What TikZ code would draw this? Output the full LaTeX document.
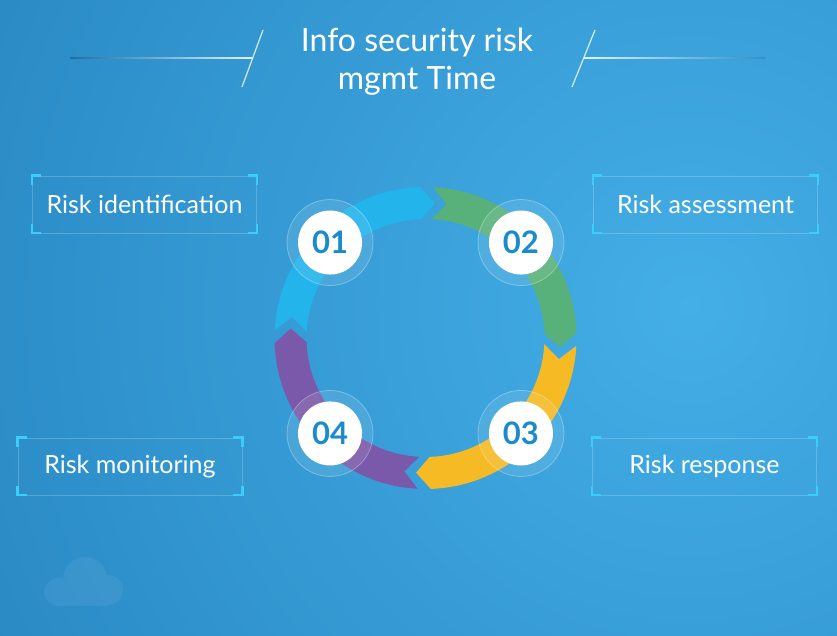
\documentclass[tikz,border=0pt]{standalone}
\usepackage{fontspec}
\setmainfont{Lato}

\definecolor{bgdark}{RGB}{26,110,166}
\definecolor{bgmid}{RGB}{46,144,202}
\definecolor{bglight}{RGB}{68,174,230}
\definecolor{segblue}{RGB}{34,180,234}
\definecolor{seggreen}{RGB}{88,176,122}
\definecolor{segyellow}{RGB}{246,186,36}
\definecolor{segpurple}{RGB}{122,88,170}
\definecolor{numblue}{RGB}{26,140,205}
\definecolor{brackcyan}{RGB}{58,206,250}

\pgfdeclareradialshading{bgglow}{\pgfpoint{0bp}{0bp}}{color(0bp)=(bglight); color(12bp)=(bgmid);
  color(25bp)=(bgdark); color(50bp)=(bgdark)}

\begin{document}
\begin{tikzpicture}[x=1bp,y=1bp,
  labelbox/.style={draw=white,draw opacity=0.2,line width=0.6bp,minimum width=224bp,minimum height=57bp,
    text=white,font=\fontsize{25bp}{28bp}\selectfont},
  corner/.style={brackcyan,line width=2.4bp},
  numdot/.style={circle,fill=white,minimum size=64bp,inner sep=0pt,text=numblue,
    font=\bfseries\fontsize{31bp}{31bp}\selectfont},
  halo/.style={fill=white,fill opacity=0.1,draw=white,draw opacity=0.3,line width=0.8bp}]
\useasboundingbox (0,0) rectangle (837,636);
% background
\fill[bgdark] (0,0) rectangle (837,636);
\begin{scope}
  \clip (0,0) rectangle (837,636);
  \shade[shading=bgglow] (690,330) circle[radius=1350bp];
\end{scope}
\begin{scope}[transparency group,opacity=0.06]
\fill[white] (58,30) rectangle (108,46);
\fill[white] (85,57) circle[radius=22bp] (58,44) circle[radius=14bp] (108,46) circle[radius=15bp];
\end{scope}

% title
\node[text=white,align=center,font=\fontsize{32bp}{38bp}\selectfont] (title) at (417,574) {Info security risk\\mgmt Time};
\shade[left color=bgdark,right color=white!85!bglight] (70,577.4) rectangle (252,578.6);
\shade[left color=white!85!bglight,right color=bgmid] (584,577.4) rectangle (765,578.6);
\draw[white,opacity=0.8,line width=1.2bp] (263,606) -- (242,549);
\draw[white,opacity=0.8,line width=1.2bp] (595,606) -- (572,549);

% ring
\begin{scope}[shift={(425.5,298)}]
\foreach \t/\c in {177/segblue,87/seggreen,-3/segyellow,-93/segpurple}{
  \fill[\c] (\t:151bp) arc[start angle=\t,end angle=\t-85,radius=151bp] -- (\t-91:135bp)
    -- (\t-85:119bp) arc[start angle=\t-85,end angle=\t,radius=119bp] -- (\t-6:135bp) -- cycle;
}
\foreach \a/\n in {135/01,45/02,-45/03,-135/04}{
  \filldraw[halo] (\a:135bp) circle[radius=43bp];
  \node[numdot] (n\n) at (\a:135bp) {\n};
}
\end{scope}

% labels
\node[labelbox] (ident) at (144.5,431.5) {Risk identification};
\node[labelbox] (assess) at (705.5,431.5) {Risk assessment};
\node[labelbox] (monit) at (130,169.5) {Risk monitoring};
\node[labelbox] (resp) at (704.5,169.5) {Risk response};
\foreach \b in {ident,assess,monit,resp}{
  \draw[corner] ([yshift=-9bp]\b.north west) -- (\b.north west) -- ([xshift=9bp]\b.north west);
  \draw[corner] ([yshift=-9bp]\b.north east) -- (\b.north east) -- ([xshift=-9bp]\b.north east);
  \draw[corner] ([yshift=9bp]\b.south west) -- (\b.south west) -- ([xshift=9bp]\b.south west);
  \draw[corner] ([yshift=9bp]\b.south east) -- (\b.south east) -- ([xshift=-9bp]\b.south east);
}
\end{tikzpicture}
\end{document}
